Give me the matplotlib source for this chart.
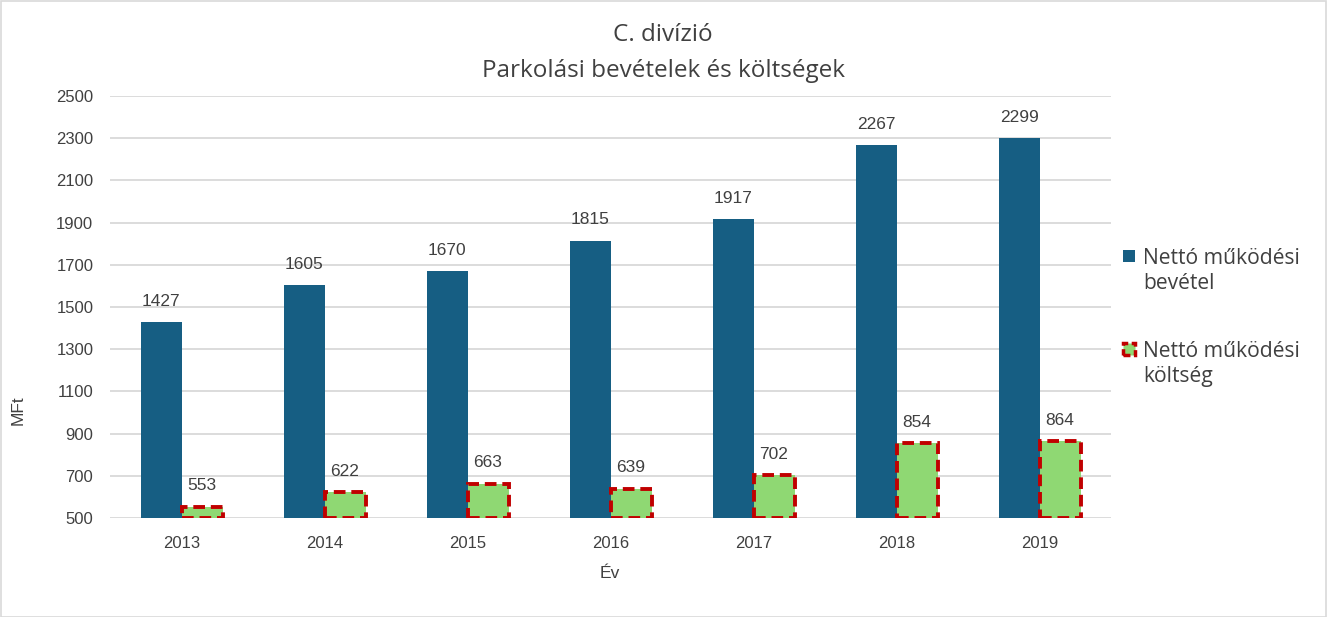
import matplotlib
matplotlib.use("Agg")
import matplotlib.pyplot as plt
import numpy as np
from matplotlib.patches import Rectangle

years = ["2013", "2014", "2015", "2016", "2017", "2018", "2019"]
revenue = [1427, 1605, 1670, 1815, 1917, 2267, 2299]
cost = [553, 622, 663, 639, 702, 854, 864]
yticks = [500, 700, 900, 1100, 1300, 1500, 1700, 1900, 2100, 2300, 2500]

W, H = 1327, 617
fig = plt.figure(figsize=(W / 100, H / 100), dpi=100)
ax = fig.add_axes([110 / W, 1 - 518 / H, (1111 - 110) / W, (518 - 96) / H])

x = np.arange(len(years))
bw = 0.285
blue = "#165e83"
green = "#8fd873"
red = "#c00000"
txt = "#404040"
lbl_font = "Liberation Sans"
leg_font = "Open Sans"

ax.bar(x - bw / 2, np.array(revenue) - 500, bw, bottom=500, color=blue, zorder=2)
ax.bar(x + bw / 2 + 0.005, np.array(cost) - 500, bw, bottom=500, color=green,
       edgecolor=red, linewidth=2.8, linestyle=(0, (3, 1.5)), zorder=3)

for i in range(len(years)):
    ax.annotate(str(revenue[i]), (x[i] - bw / 2, revenue[i]), xytext=(0, 15),
                textcoords="offset points", ha="center", va="center",
                fontsize=12.5, color=txt, family=lbl_font)
    ax.annotate(str(cost[i]), (x[i] + bw / 2, cost[i]), xytext=(0, 15),
                textcoords="offset points", ha="center", va="center",
                fontsize=12.5, color=txt, family=lbl_font)

ax.set_xlim(-0.5, len(years) - 0.5)
ax.set_ylim(500, 2500)
ax.set_yticks(yticks)
ax.set_yticklabels([str(v) for v in yticks], family=lbl_font, fontsize=12, color=txt)
ax.set_xticks(x)
ax.set_xticklabels(years, family=lbl_font, fontsize=12, color=txt)
ax.tick_params(length=0, pad=12)
ax.tick_params(axis="x", pad=13)
ax.yaxis.grid(True, color="#d9d9d9", linewidth=1.3, zorder=0)
ax.set_axisbelow(True)
for s in ax.spines.values():
    s.set_visible(False)

fig.text(18 / W, 1 - 410 / H, "MFt", rotation=90, ha="center", va="center",
         fontsize=12.5, color=txt, family=lbl_font)
fig.text(610 / W, 1 - 574 / H, "Év", ha="center", va="center",
         fontsize=12.5, color=txt, family=lbl_font)
fig.text(663 / W, 1 - 35 / H, "C. divízió", ha="center", va="center",
         fontsize=17.5, color=txt, family=leg_font)
fig.text(663 / W, 1 - 71 / H, "Parkolási bevételek és költségek", ha="center", va="center",
         fontsize=17.5, color=txt, family=leg_font)

# legend
fig.patches.append(Rectangle((1123 / W, 1 - 262 / H), 12 / W, 12 / H,
                             transform=fig.transFigure, facecolor=blue, edgecolor="none"))
fig.patches.append(Rectangle((1123 / W, 1 - 355 / H), 12 / W, 12 / H,
                             transform=fig.transFigure, facecolor=green, edgecolor=red,
                             linewidth=2.5, linestyle=(0, (2, 1))))
fig.text(1143 / W, 1 - 271 / H, "Nettó működési\nbevétel", ha="left", va="center",
         fontsize=15.2, color=txt, family=leg_font, linespacing=1.25)
fig.text(1143 / W, 1 - 364 / H, "Nettó működési\nköltség", ha="left", va="center",
         fontsize=15.2, color=txt, family=leg_font, linespacing=1.25)

# outer border
fig.patches.append(Rectangle((0.5 / W, 0.5 / H), (W - 1.5) / W, (H - 1.5) / H,
                             transform=fig.transFigure, facecolor="none",
                             edgecolor="#d9d9d9", linewidth=1.2))

fig.savefig("out.png", dpi=100)
